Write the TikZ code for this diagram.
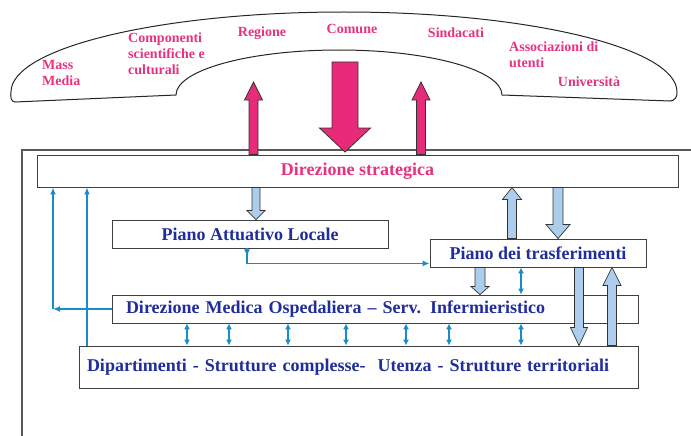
\documentclass[tikz,border=0pt]{standalone}
\usepackage{fontspec}
\setmainfont{Liberation Serif}
\usetikzlibrary{calc,arrows.meta}

\definecolor{rosa}{RGB}{230,50,128}
\definecolor{rosafreccia}{RGB}{232,42,122}
\definecolor{blutesto}{RGB}{32,45,155}
\definecolor{celeste}{RGB}{172,206,236}
\definecolor{azzurro}{RGB}{22,140,200}

% fat arrow: style, half shaft, half head, head length, from, to
\newcommand{\fatarrow}[6]{%
  \draw[#1] let \p1=(#5), \p2=(#6), \n1={ifthenelse(\y2>\y1,1,-1)} in
    (\x1-#2,\y1) -- (\x1-#2,\y2-\n1*#4) -- (\x1-#3,\y2-\n1*#4) -- (\x1,\y2)
    -- (\x1+#3,\y2-\n1*#4) -- (\x1+#2,\y2-\n1*#4) -- (\x1+#2,\y1) -- cycle;}

\begin{document}
\begin{tikzpicture}[x=1pt,y=-1pt,font=\bfseries,
  box/.style={draw=black!75,line width=0.9pt,inner sep=0pt,minimum height=28pt,
    text=blutesto,font=\bfseries\fontsize{18}{20}\selectfont},
  cloudtext/.style={text=rosa,inner sep=0pt,font=\bfseries\fontsize{14}{16}\selectfont},
  pinkarrow/.style={fill=rosafreccia,draw=black!80,line width=0.8pt},
  bluearrow/.style={fill=celeste,draw=black!80,line width=0.7pt},
  thinline/.style={draw=azzurro,line width=1.4pt,-{Latex[length=7pt,width=6pt]}},
  thinboth/.style={draw=azzurro,line width=1.4pt,{Latex[length=6pt,width=6pt]}-{Latex[length=6pt,width=6pt]}}]
  \useasboundingbox (0,0) rectangle (691,436);

  % cloud of the external actors
  \draw[black!85,line width=1pt] (176,95) -- (15,102) to[out=180,in=260] (11,92)
    arc[start angle=180,end angle=360,x radius=333,y radius=80]
    to[out=280,in=0] (670,101) -- (502,95)
    arc[start angle=360,end angle=180,x radius=163,y radius=45] -- cycle;
  \node[cloudtext,align=left,anchor=west] (mass) at (42,73) {Mass\\Media};
  \node[cloudtext,align=left,anchor=west] (comp) at (128,53.5) {Componenti\\scientifiche e\\culturali};
  \node[cloudtext] (regione) at (262,33) {Regione};
  \node[cloudtext] (comune) at (352,29) {Comune};
  \node[cloudtext] (sindacati) at (456,33) {Sindacati};
  \node[cloudtext,align=left,anchor=west] (assoc) at (509,55) {Associazioni di\\utenti};
  \node[cloudtext] (univ) at (589,82) {Università};

  % frame
  \draw[black!65,line width=1.2pt] (691,150) -- (22,150) -- (22,436);

  % boxes
  \node[box,minimum width=641pt,minimum height=32pt,text=rosa] (ds) at (357.5,171) {Direzione strategica};
  \node[box,minimum width=276pt] (pal) at (250,234) {Piano Attuativo Locale};
  \node[box,minimum width=216pt] (pdt) at (538,253) {Piano dei trasferimenti};
  \node[box,inner xsep=14pt,text width=498pt,align=left] (dmo) at (375,309)
    {Direzione Medica Ospedaliera – Serv. Infermieristico};
  \node[box,inner xsep=8pt,text width=543pt,align=left,minimum height=42pt] (dip) at (358.5,367)
    {Dipartimenti - Strutture complesse-\ \ Utenza - Strutture territoriali};

  % pink arrows
  \coordinate (pu1) at (253.5,82);
  \coordinate (pu2) at (421,82);
  \coordinate (pd) at (345,62);
  \coordinate (pdtip) at (345,152);
  \fatarrow{pinkarrow}{4.5pt}{9pt}{18pt}{pu1 |- ds.north}{pu1}
  \fatarrow{pinkarrow}{4.5pt}{9pt}{18pt}{pu2 |- ds.north}{pu2}
  \fatarrow{pinkarrow}{13pt}{25.5pt}{24pt}{pd}{pdtip}

  % light blue arrows
  \fatarrow{bluearrow}{4pt}{9pt}{9pt}{256,0 |- ds.south}{256,0 |- pal.north}
  \fatarrow{bluearrow}{4.5pt}{9.5pt}{12pt}{512,0 |- pdt.north}{512,0 |- ds.south}
  \fatarrow{bluearrow}{5pt}{12pt}{14pt}{558,0 |- ds.south}{558,0 |- pdt.north}
  \fatarrow{bluearrow}{5pt}{9pt}{8pt}{480,0 |- pdt.south}{480,0 |- dmo.north}
  \fatarrow{bluearrow}{4.5pt}{8.5pt}{18pt}{579,0 |- pdt.south}{579,0 |- dip.north}
  \fatarrow{bluearrow}{4.5pt}{9pt}{18pt}{612,0 |- dip.north}{612,0 |- pdt.south}

  % thin connectors
  \draw[thinline] (247,0 |- pal.south) -- ++(0,8);
  \draw[thinline] (247,0 |- pal.south) |- ([yshift=4pt]pdt.south west);
  \draw[thinboth] (521,0 |- pdt.south) -- (521,0 |- dmo.north);
  \coordinate (corner) at (53,0 |- dmo.west);
  \draw[thinline] (dmo.west) -- (corner);
  \draw[thinline] (corner) -- (corner |- ds.south);
  \draw[thinline] (87,0 |- dip.north) -- (87,0 |- ds.south);
  \foreach \xx in {187,229,288,346,406,449,521}
    \draw[thinboth] (\xx,0 |- dmo.south) -- (\xx,0 |- dip.north);
\end{tikzpicture}
\end{document}
